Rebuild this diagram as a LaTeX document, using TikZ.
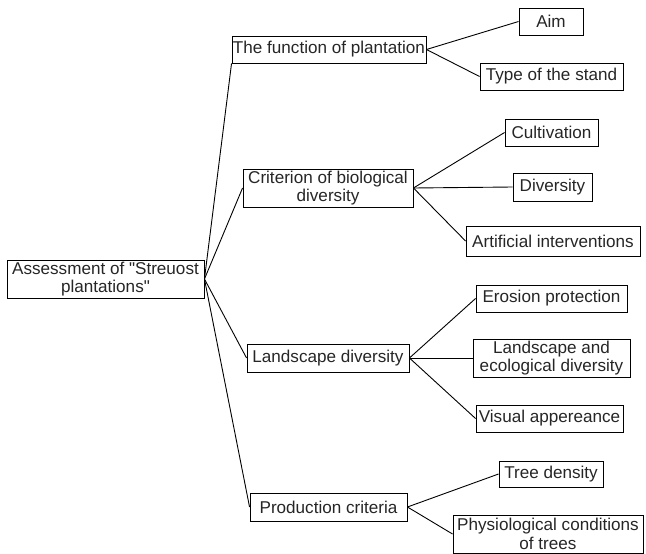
\documentclass[tikz,border=0pt]{standalone}
\usepackage{fontspec}
% a family without the TeX mapping, so that " stays a straight quote
\newfontfamily\boxfont{Liberation Sans}
\begin{document}
\begin{tikzpicture}[x=1pt,y=-1pt,
  box/.style={draw=black, line width=0.9pt, fill=white, align=center, inner sep=0pt,
    font=\boxfont\fontsize{17.1}{18.4}\selectfont, text=black!85},
  link/.style={draw=black, line width=0.9pt}]
\useasboundingbox (0,0) rectangle (646,554);

% root
\node[box, minimum width=197, minimum height=38] (root) at (105.5,279) {Assessment of "Streuost\\plantations"};

% first level
\node[box, minimum width=194, minimum height=27] (func) at (329,49.5) {The function of plantation};
\node[box, minimum width=170, minimum height=38] (crit) at (328,188) {Criterion of biological\\diversity};
\node[box, minimum width=162, minimum height=28] (land) at (328,358) {Landscape diversity};
\node[box, minimum width=157, minimum height=28] (prod) at (328.5,507) {Production criteria};

% second level
\node[box, minimum width=64, minimum height=27] (aim) at (551,21.5) {Aim};
\node[box, minimum width=143, minimum height=27] (stand) at (551.5,76.5) {Type of the stand};
\node[box, minimum width=93, minimum height=27] (cult) at (551.5,132.5) {Cultivation};
\node[box, minimum width=79, minimum height=28] (div) at (552.5,187) {Diversity};
\node[box, minimum width=174, minimum height=30] (art) at (553,241) {Artificial interventions};
\node[box, minimum width=151, minimum height=27] (eros) at (551.5,298.5) {Erosion protection};
\node[box, minimum width=157, minimum height=38] (lande) at (551.5,358) {Landscape and\\ecological diversity};
\node[box, minimum width=147, minimum height=27] (vis) at (549.5,418.5) {Visual appereance};
\node[box, minimum width=104, minimum height=26] (tree) at (551,474) {Tree density};
\node[box, minimum width=190, minimum height=38] (phys) at (548,534) {Physiological conditions\\of trees};

% connectors
\draw[link] (root.east) -- (func.south west);
\draw[link] (root.east) -- (crit.west);
\draw[link] (root.east) -- (land.west);
\draw[link] (root.east) -- (prod.west);

\draw[link] (func.east) -- (aim.west);
\draw[link] (func.east) -- (stand.west);
\draw[link] (crit.east) -- (cult.west);
\draw[link] (crit.east) -- (div.west);
\draw[link] (crit.east) -- (art.west);
\draw[link] (land.east) -- (eros.west);
\draw[link] (land.east) -- (lande.west);
\draw[link] (land.east) -- (vis.west);
\draw[link] (prod.east) -- (tree.west);
\draw[link] (prod.east) -- (phys.west);
\end{tikzpicture}
\end{document}
